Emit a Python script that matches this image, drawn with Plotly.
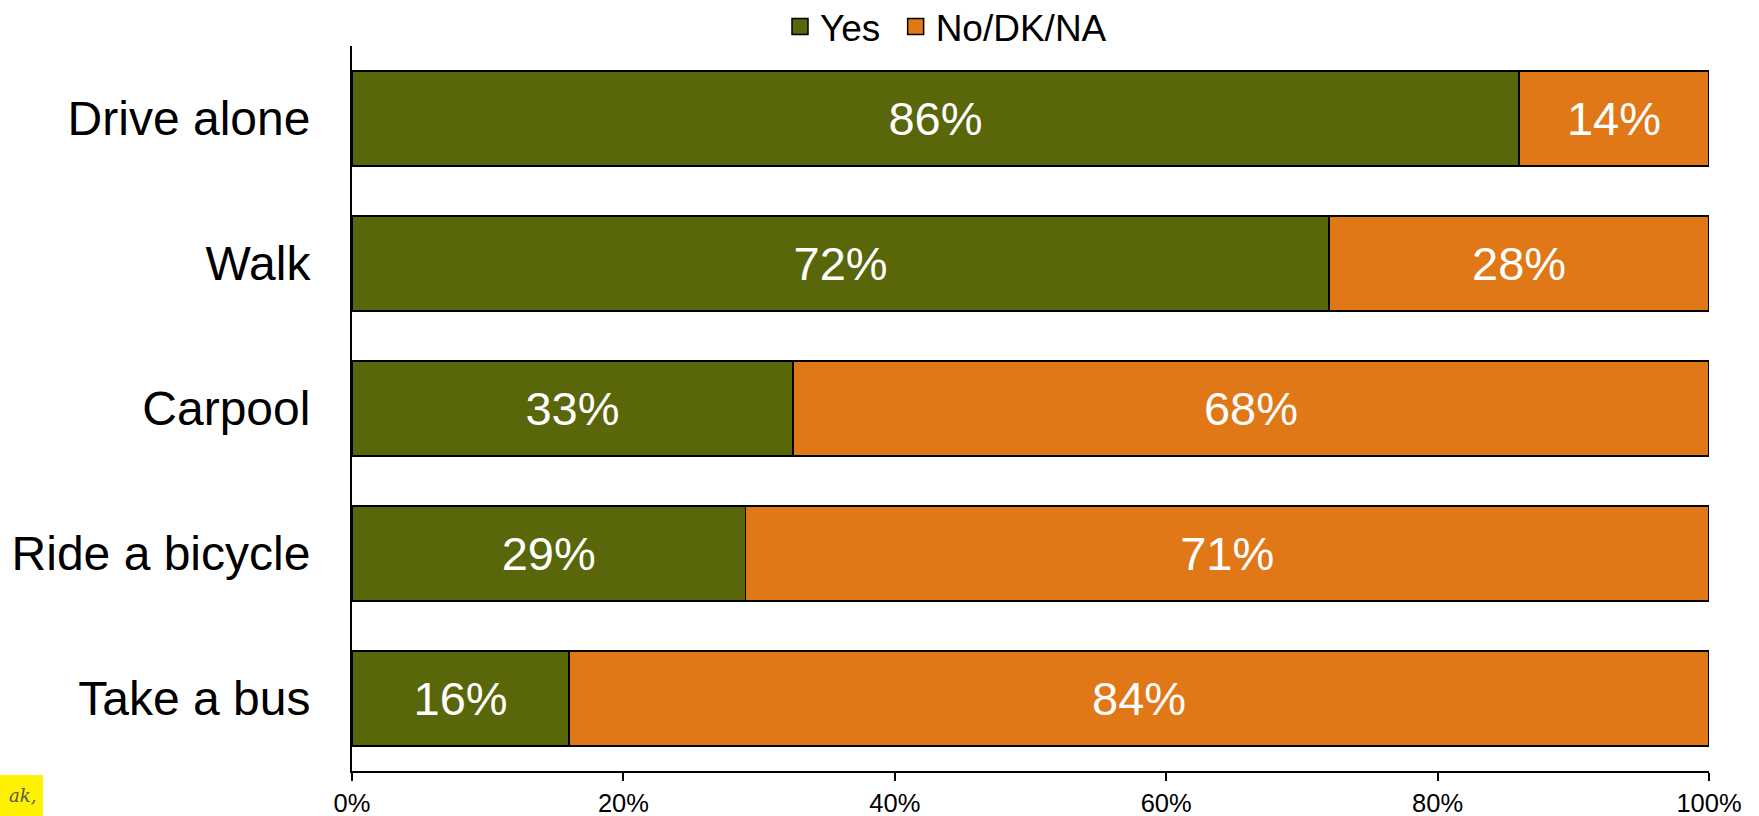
import plotly.graph_objects as go

categories = ["Drive alone", "Walk", "Carpool", "Ride a bicycle", "Take a bus"]
yes_values = [86, 72, 32.5, 29, 16]
no_values = [14, 28, 67.5, 71, 84]
yes_labels = ["86%", "72%", "33%", "29%", "16%"]
no_labels = ["14%", "28%", "68%", "71%", "84%"]
x_tick_vals = [0, 20, 40, 60, 80, 100]
x_tick_text = ["0%", "20%", "40%", "60%", "80%", "100%"]
series_names = ["Yes", "No/DK/NA"]

GREEN = "#59660A"
ORANGE = "#E07818"
FONT = "Arial, Liberation Sans, sans-serif"

W, H = 1759, 816
L, R, T, B = 352, 50, 46, 45
pw, ph = W - L - R, H - T - B


def px_x(p):
    return (p - L) / pw


def px_y(p):
    return (T + ph - p) / ph


fig = go.Figure()
for vals, labels, color, name in [(yes_values, yes_labels, GREEN, series_names[0]),
                                  (no_values, no_labels, ORANGE, series_names[1])]:
    fig.add_trace(go.Bar(
        y=categories, x=vals, orientation="h", name=name, showlegend=False,
        marker=dict(color=color, line=dict(color="black", width=1.5)),
        text=labels, textposition="inside", insidetextanchor="middle",
        textfont=dict(color="white", size=47, family=FONT), textangle=0,
        hoverinfo="skip",
    ))
legend_names = [series_names[0] + "\u00a0", series_names[1]]
for color, name in [(GREEN, legend_names[0]), (ORANGE, legend_names[1])]:
    fig.add_trace(go.Scatter(
        x=[None], y=[None], mode="markers", name=name,
        marker=dict(symbol="square", size=16, color=color, line=dict(color="black", width=1.5)),
        hoverinfo="skip",
    ))

fig.update_layout(
    width=W, height=H,
    margin=dict(l=L, r=R, t=T, b=B, autoexpand=False),
    barmode="stack", bargap=0.345,
    plot_bgcolor="white", paper_bgcolor="white",
    font=dict(family=FONT, color="black"),
    legend=dict(
        orientation="h", x=px_x(946), xanchor="center",
        y=px_y(27), yanchor="middle",
        font=dict(size=37, family=FONT), traceorder="normal",
        itemsizing="trace", bgcolor="rgba(0,0,0,0)", itemwidth=30,
    ),
    xaxis=dict(
        range=[0, 100], tickvals=x_tick_vals, ticktext=x_tick_text,
        showgrid=False, zeroline=False, showline=True, linecolor="black",
        linewidth=2, ticks="outside", ticklen=8, tickwidth=1.5, tickcolor="black",
        tickfont=dict(size=25.5, family=FONT), fixedrange=True,
    ),
    yaxis=dict(
        categoryorder="array", categoryarray=categories, autorange="reversed",
        showgrid=False, zeroline=False, showline=True, linecolor="black",
        linewidth=2, ticks="", tickfont=dict(size=48, family=FONT),
        ticklabelstandoff=30, fixedrange=True,
    ),
    shapes=[dict(
        type="rect", xref="paper", yref="paper",
        x0=px_x(0), x1=px_x(43), y0=px_y(816), y1=px_y(775),
        fillcolor="#FFF200", line=dict(width=0), layer="above",
    )],
    annotations=[dict(
        text="<i>ak,</i>", xref="paper", yref="paper",
        x=px_x(38), xanchor="right", y=px_y(795), yanchor="middle",
        showarrow=False, font=dict(family="DejaVu Serif, serif", size=18, color="#555555"),
    )],
)

fig.write_html("out.html", post_script="document.body.style.margin='0px';",
               config={"displayModeBar": False})
